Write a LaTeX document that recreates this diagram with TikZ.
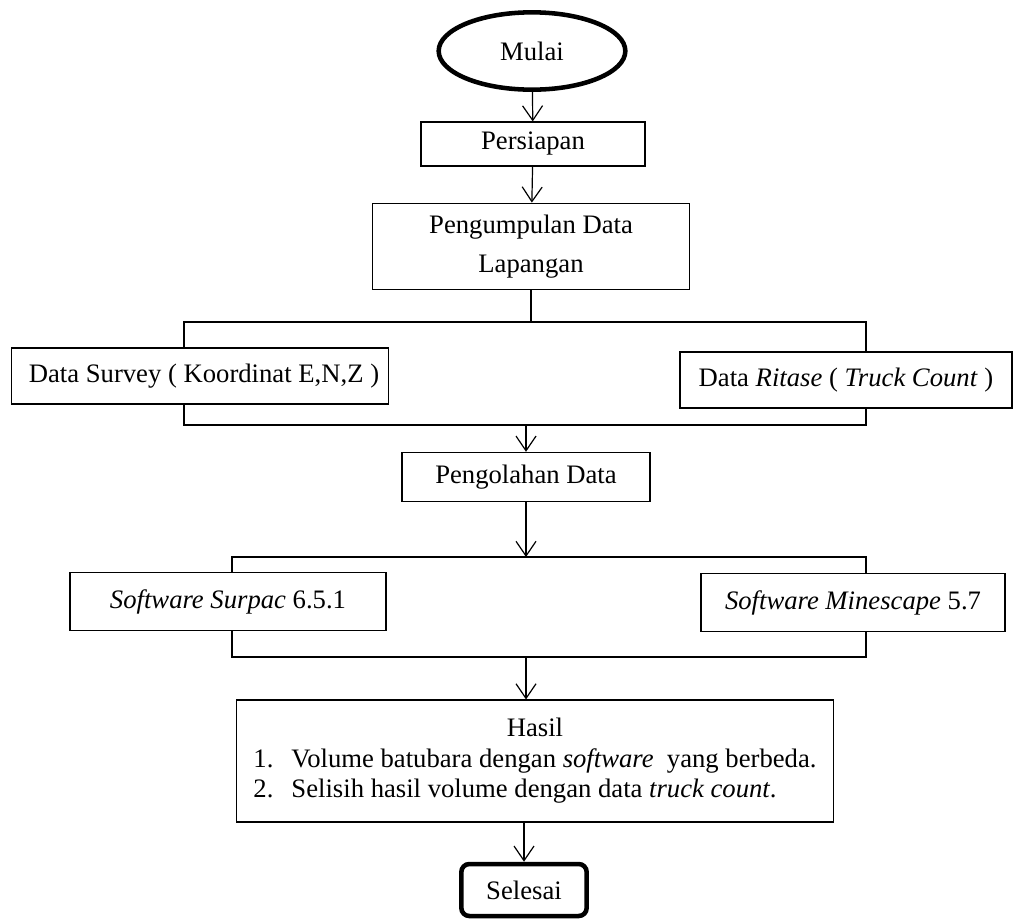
\documentclass[tikz,border=0pt]{standalone}
\usepackage{fontspec}
\setmainfont{Liberation Serif}
\usetikzlibrary{arrows.meta, positioning, shapes.geometric}

\begin{document}
\begin{tikzpicture}[x=0.75pt, y=-0.75pt, font=\fontsize{20}{24}\selectfont,
    >={Straight Barb[length=11pt, width=15pt]},
    box/.style={draw, line width=0.8pt, inner sep=2pt, align=center},
    term/.style={draw, line width=3.4pt, align=center},
    arr/.style={->, line width=0.9pt},
    link/.style={line width=1.5pt}]

  \useasboundingbox (0,0) rectangle (1016,922);

  % start and preparation
  \node[term, ellipse, minimum width=140pt, minimum height=58pt] (mulai) at (532,51) {Mulai};
  \node[box, minimum width=168pt, minimum height=33pt] (persiapan) at (533,144) {Persiapan};
  \node[box, minimum width=238pt, minimum height=65pt] (kumpul) at (531,246.5)
    {Pengumpulan Data\\[5pt] Lapangan};

  \draw[arr] (mulai) -- (persiapan);
  \draw[arr] (persiapan) -- (kumpul);

  % field data, two branches
  \coordinate (s1l) at (184,322);
  \coordinate (s1r) at (866,322);
  \coordinate (j1l) at (184,425);
  \coordinate (j1r) at (866,425);
  \node[box, minimum width=283pt, minimum height=42pt] (survey) at (200,376)
    {\hspace{6pt}Data Survey ( Koordinat E,N,Z )};
  \node[box, minimum width=249pt, minimum height=42pt] (ritase) at (846,380)
    {Data \textit{Ritase} ( \textit{Truck Count} )};

  \draw[link] (kumpul.south) -- (kumpul.south |- s1l);
  \draw[link] (s1l |- survey.north) -- (s1l) -- (s1r) -- (s1r |- ritase.north);
  \draw[link] (s1l |- survey.south) -- (j1l) -- (j1r) -- (s1r |- ritase.south);

  % processing
  \node[box, minimum width=186pt, minimum height=37pt] (olah) at (526,477) {Pengolahan Data};
  \draw[arr] (j1l -| olah.north) -- (olah.north);

  \coordinate (s2l) at (232,557);
  \coordinate (s2r) at (866,557);
  \coordinate (j2l) at (232,657);
  \coordinate (j2r) at (866,657);
  \node[box, minimum width=237pt, minimum height=43pt] (surpac) at (228,601.5)
    {\textit{Software Surpac} 6.5.1};
  \node[box, minimum width=228pt, minimum height=43pt] (minescape) at (853,602.5)
    {\textit{Software Minescape} 5.7};

  \draw[arr] (olah.south) -- (olah.south |- s2l);
  \draw[link] (s2l |- surpac.north) -- (s2l) -- (s2r) -- (s2r |- minescape.north);
  \draw[link] (s2l |- surpac.south) -- (j2l) -- (j2r) -- (s2r |- minescape.south);

  % results and end
  \node[box, minimum width=448pt, minimum height=91.5pt, inner sep=0pt] (hasil) at (535,761)
    {\fontsize{20}{23}\selectfont
     \begin{tabular}{@{}l@{\hspace{13.5pt}}l@{}}
       \multicolumn{2}{@{}c@{}}{Hasil}\\
       1. & Volume batubara dengan \textit{software}\ \ yang berbeda.\\
       2. & Selisih hasil volume dengan data \textit{truck count}.
     \end{tabular}};
  \node[term, rounded corners=6pt, minimum width=94pt, minimum height=39pt] (selesai) at (524,890) {Selesai};

  \draw[arr] (j2l -| olah.south) -- (olah.south |- hasil.north);
  \draw[arr] (hasil.south -| selesai) -- (selesai);
\end{tikzpicture}
\end{document}
